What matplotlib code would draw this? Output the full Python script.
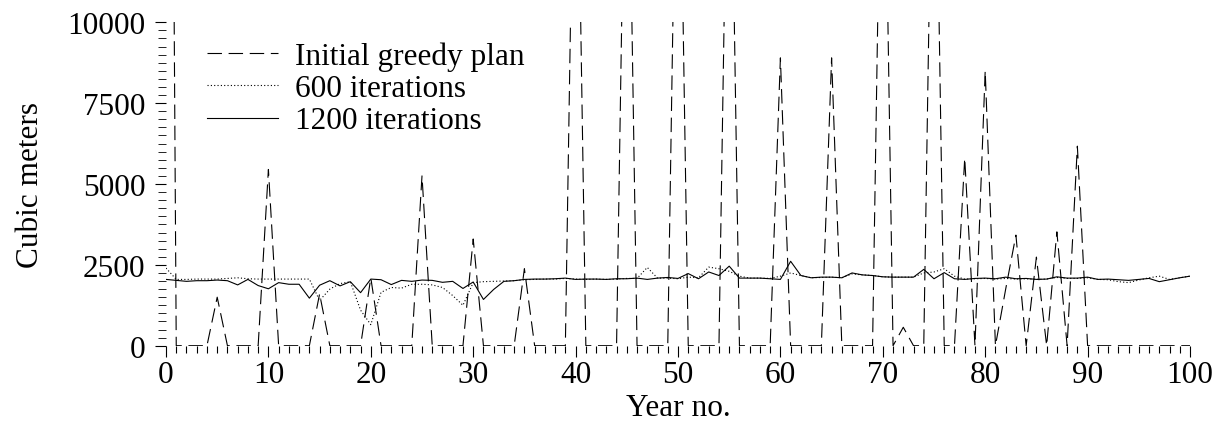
import numpy as np
from matplotlib import pyplot as plt
from matplotlib.ticker import MultipleLocator

plt.rcParams['font.family'] = ['Liberation Serif', 'DejaVu Serif']

# data
years = np.arange(0, 101)

greedy = [50000, 0, 0, 0, 0, 1500, 0, 0, 0, 0,
          5450, 0, 0, 0, 0, 1600, 0, 0, 0, 0,
          2100, 0, 0, 0, 0, 5250, 0, 0, 0, 0,
          3300, 0, 0, 0, 0, 2380, 0, 0, 0, 0,
          20000, 0, 0, 0, 0, 20000, 0, 0, 0, 0,
          20000, 0, 0, 0, 0, 20000, 0, 0, 0, 0,
          8900, 0, 0, 0, 0, 8900, 0, 0, 0, 0,
          20000, 0, 570, 0, 0, 20000, 0, 0, 5800, 0,
          8500, 0, 1750, 3420, 0, 2740, 0, 3520, 0, 6170,
          0, 0, 0, 0, 0, 0, 0, 0, 0, 0,
          0]

it600 = [2400, 2050, 2050, 2060, 2060, 2060, 2080, 2100, 2070, 2060,
         2060, 2060, 2060, 2060, 2060, 1400, 1750, 1920, 1980, 1100,
         650, 1650, 1800, 1780, 1900, 1900, 1880, 1800, 1550, 1250,
         1950, 1980, 1990, 2000, 2010, 2040, 2050, 2060, 2060, 2080,
         2060, 2050, 2060, 2050, 2060, 2080, 2080, 2420, 2090, 2090,
         2070, 2120, 2100, 2430, 2380, 2300, 2150, 2090, 2090, 2080,
         2150, 2250, 2170, 2100, 2110, 2120, 2100, 2220, 2190, 2170,
         2130, 2120, 2120, 2120, 2250, 2280, 2380, 2150, 2060, 2070,
         2080, 2060, 2080, 2060, 2070, 2050, 2060, 2110, 2080, 2080,
         2100, 2050, 2040, 1980, 1950, 2030, 2100, 2150, 2050, 2100,
         2150]

it1200 = [2050, 2020, 1990, 2010, 2010, 2030, 2010, 1880, 2050, 1860,
          1760, 1950, 1900, 1900, 1470, 1870, 2010, 1850, 1980, 1640,
          2060, 2040, 1890, 2020, 1990, 2030, 2020, 1960, 1990, 1770,
          1970, 1430, 1740, 1990, 2010, 2050, 2060, 2060, 2070, 2090,
          2050, 2060, 2060, 2050, 2070, 2070, 2090, 2050, 2090, 2110,
          2080, 2230, 2070, 2280, 2170, 2460, 2090, 2090, 2090, 2070,
          2050, 2610, 2170, 2100, 2120, 2120, 2100, 2250, 2190, 2170,
          2130, 2120, 2120, 2120, 2360, 2070, 2260, 2070, 2050, 2080,
          2090, 2070, 2120, 2070, 2080, 2050, 2060, 2130, 2090, 2090,
          2120, 2050, 2060, 2040, 2020, 2050, 2080, 1980, 2040, 2100,
          2150]

labels = ['Initial greedy plan', '600 iterations', '1200 iterations']


# plot:
W, H = 1226, 427
fs = 22.5
fig = plt.figure(figsize=(W/100, H/100), dpi=100)
ax = fig.add_axes([166/W, 1 - 346.7/H, 1024/W, 323.4/H])

ax.plot(years, greedy, color='k', lw=0.8, dashes=(13, 6), label=labels[0])
ax.plot(years, it600, color='k', lw=0.8, dashes=(1, 2), label=labels[1])
ax.plot(years, it1200, color='k', lw=0.8, label=labels[2])

ax.set_xlim(0, 100)
ax.set_ylim(0, 10000)
for s in ax.spines.values():
    s.set_visible(False)

ax.xaxis.set_major_locator(MultipleLocator(10))
ax.xaxis.set_minor_locator(MultipleLocator(1))
ax.yaxis.set_major_locator(MultipleLocator(2500))
ax.yaxis.set_minor_locator(MultipleLocator(250))
ax.tick_params(axis='both', which='major', direction='out', length=8, width=0.8, labelsize=fs)
ax.tick_params(axis='x', which='major', pad=2)
ax.tick_params(axis='y', which='major', pad=7)
ax.tick_params(axis='x', which='minor', direction='out', length=5, width=0.8)
ax.tick_params(axis='y', which='minor', direction='out', length=6, width=0.6)

ax.set_xlabel('Year no.', size=fs, labelpad=3)
ax.set_ylabel('Cubic meters', size=fs, labelpad=16)

ax.legend(loc='upper left', bbox_to_anchor=(0.04, 0.94), frameon=False, fontsize=fs,
          handlelength=2.27, handletextpad=0.54, labelspacing=0.1, borderpad=0, borderaxespad=0)

fig.savefig('out.png', dpi=100)
